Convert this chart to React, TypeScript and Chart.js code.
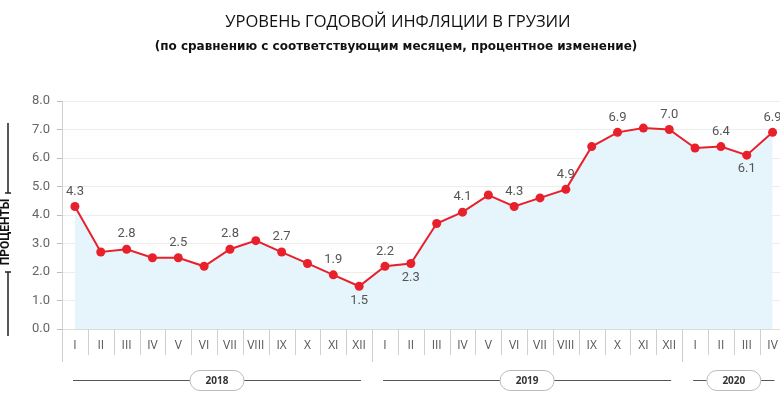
import React, { useEffect, useRef } from 'react';
import { Chart, registerables } from 'chart.js';

Chart.register(...registerables);

const TITLE = 'УРОВЕНЬ ГОДОВОЙ ИНФЛЯЦИИ В ГРУЗИИ';
const SUBTITLE = '(по сравнению с соответствующим месяцем, процентное изменение)';
const Y_TITLE = 'ПРОЦЕНТЫ';

const months = ['I', 'II', 'III', 'IV', 'V', 'VI', 'VII', 'VIII', 'IX', 'X', 'XI', 'XII'];
const months2020 = ['I', 'II', 'III', 'IV'];
const categories = [...months, ...months, ...months2020];

const values2018 = [4.3, 2.7, 2.8, 2.5, 2.5, 2.2, 2.8, 3.1, 2.7, 2.3, 1.9, 1.5];
const values2019 = [2.2, 2.3, 3.7, 4.1, 4.7, 4.3, 4.6, 4.9, 6.4, 6.9, 7.05, 7.0];
const values2020 = [6.35, 6.4, 6.1, 6.9];
const values = [...values2018, ...values2019, ...values2020];

const labeledIndices = [0, 2, 4, 6, 8, 10, 11, 12, 13, 15, 17, 19, 21, 23, 25, 26, 27];
const belowIndices = [11, 13, 26];

const yearLabels = ['2018', '2019', '2020'];
const yearStarts = [0, 12, 24];
const yearEnds = [11, 23, 27];

const yTicks = [0, 1, 2, 3, 4, 5, 6, 7, 8];

const decor = {
  id: 'decor',
  afterDatasetsDraw(chart: any) {
    const ctx = chart.ctx;
    const meta = chart.getDatasetMeta(0);
    ctx.save();
    ctx.font = '13px Roboto';
    ctx.fillStyle = '#555';
    ctx.textAlign = 'center';
    ctx.textBaseline = 'middle';
    labeledIndices.forEach((idx) => {
      const pt = meta.data[idx];
      const below = belowIndices.includes(idx);
      const y = below ? pt.y + 14 : pt.y - 15;
      ctx.fillText(values[idx].toFixed(1), pt.x, y);
    });
    ctx.restore();
  },
  afterDraw(chart: any) {
    const ctx = chart.ctx;
    const area = chart.chartArea;
    const xs = chart.scales.x;
    ctx.save();
    // titles
    ctx.fillStyle = '#111';
    ctx.textAlign = 'center';
    ctx.textBaseline = 'middle';
    ctx.font = '16.5px "Open Sans"';
    ctx.fillText(TITLE, 398, 22);
    ctx.font = 'bold 12px "DejaVu Sans"';
    ctx.fillText(SUBTITLE, 396, 47);

    // y title
    ctx.save();
    ctx.translate(5, 232);
    ctx.rotate(-Math.PI / 2);
    ctx.font = 'bold 12px Roboto';
    ctx.fillStyle = '#111';
    ctx.fillText(Y_TITLE, 0, 1);
    ctx.restore();

    ctx.strokeStyle = '#222';
    ctx.lineWidth = 1.5;
    ctx.beginPath();
    ctx.moveTo(8, 123);
    ctx.lineTo(8, 193);
    ctx.moveTo(5, 193);
    ctx.lineTo(11, 193);
    ctx.moveTo(8, 272);
    ctx.lineTo(8, 336);
    ctx.moveTo(5, 272);
    ctx.lineTo(11, 272);
    ctx.stroke();

    // x separators
    const n = categories.length;
    const cw = (xs.right - xs.left) / n;
    ctx.strokeStyle = '#cfcfcf';
    ctx.lineWidth = 1;
    ctx.beginPath();
    for (let i = 0; i <= n; i++) {
      const x = Math.round(xs.left + i * cw) + 0.5;
      const len = yearStarts.includes(i) ? 33 : 26;
      ctx.moveTo(x, area.bottom);
      ctx.lineTo(x, area.bottom + len);
    }
    ctx.stroke();

    // year groups
    const yy = 380.5;
    yearLabels.forEach((lab, k) => {
      const left = xs.left + yearStarts[k] * cw;
      const right = xs.left + (yearEnds[k] + 1) * cw;
      const cx = (left + right) / 2;
      ctx.strokeStyle = '#555';
      ctx.lineWidth = 1;
      ctx.beginPath();
      ctx.moveTo(left + 11, yy);
      ctx.lineTo(cx - 27, yy);
      ctx.moveTo(cx + 27, yy);
      ctx.lineTo(right - 11, yy);
      ctx.stroke();
      ctx.strokeStyle = '#bbb';
      ctx.fillStyle = '#fff';
      ctx.beginPath();
      ctx.roundRect(cx - 27, 370.5, 54, 20, 10);
      ctx.fill();
      ctx.stroke();
      ctx.fillStyle = '#333';
      ctx.font = 'bold 10px "Open Sans"';
      ctx.textAlign = 'center';
      ctx.textBaseline = 'middle';
      ctx.fillText(lab, cx, yy + 0.5);
    });
    ctx.restore();
  },
};

export default function App() {
  const ref = useRef<HTMLCanvasElement>(null);
  useEffect(() => {
    if (!ref.current) return;
    const chart = new Chart(ref.current, {
      type: 'line',
      data: {
        labels: categories,
        datasets: [
          {
            data: values,
            borderColor: '#e8202b',
            backgroundColor: '#e6f4fc',
            fill: 'origin',
            borderWidth: 2,
            pointRadius: 4.5,
            pointBackgroundColor: '#e8202b',
            pointBorderColor: '#e8202b',
            pointBorderWidth: 0,
            tension: 0,
          },
        ],
      },
      options: {
        animation: false,
        responsive: false,
        maintainAspectRatio: false,
        layout: { padding: { top: 101, left: 0, right: 0, bottom: 0 } },
        plugins: {
          legend: { display: false },
          tooltip: { enabled: false },
          title: { display: false },
        },
        scales: {
          x: {
            offset: true,
            grid: { display: false },
            border: { display: true, color: '#dcdcdc' },
            ticks: {
              color: '#555',
              font: { family: 'Open Sans', size: 12 },
              padding: 1,
              autoSkip: false,
              maxRotation: 0,
            },
            afterFit: (s: any) => {
              s.height = 65;
            },
          },
          y: {
            min: 0,
            max: 8,
            afterBuildTicks: (s: any) => {
              s.ticks = yTicks.map((v) => ({ value: v }));
            },
            ticks: {
              callback: (v: any) => Number(v).toFixed(1),
              color: '#666',
              font: { family: 'Roboto', size: 13 },
              padding: 7,
            },
            grid: { color: '#ececec', tickColor: '#bbb', tickLength: 5, drawTicks: true },
            border: { display: true, color: '#cfcfcf' },
            afterFit: (s: any) => {
              s.width = 62;
            },
          },
        },
      },
      plugins: [decor],
    });
    return () => chart.destroy();
  }, []);
  return (
    <div
      style={{
        position: 'fixed',
        left: 0,
        top: 0,
        width: 780,
        height: 394,
        overflow: 'hidden',
        background: '#fff',
      }}
    >
      <canvas ref={ref} width={790} height={394} style={{ display: 'block', width: 790, height: 394 }} />
    </div>
  );
}
